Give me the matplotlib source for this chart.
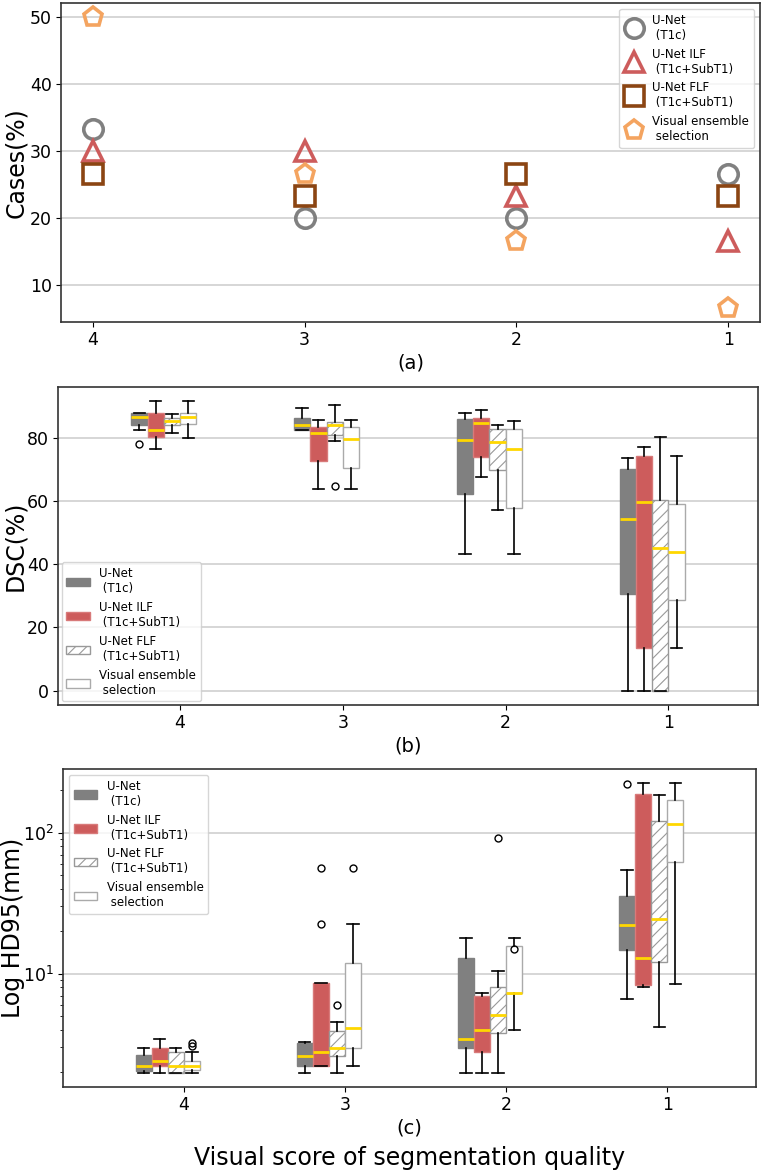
import matplotlib.pyplot as plt
from matplotlib.patches import Patch

# visual score groups (left to right)
scores = ['4', '3', '2', '1']
methods = ['U-Net\n (T1c)', 'U-Net ILF\n (T1c+SubT1)',
           'U-Net FLF\n (T1c+SubT1)', 'Visual ensemble\n selection']

# (a) percentage of cases per visual score
cases_unet = [33.3, 20.0, 20.0, 26.7]
cases_ilf = [30.0, 30.0, 23.3, 16.7]
cases_flf = [26.7, 23.3, 26.7, 23.3]
cases_visual = [50.0, 26.7, 16.7, 6.7]

# (b) DSC box stats per score: [whislo, q1, med, q3, whishi]
dsc_unet = [[82.7, 84.2, 86.7, 88.1, 88.1], [82.5, 82.5, 84.2, 86.4, 89.5],
            [43.2, 62.4, 79.3, 85.9, 88.1], [0.0, 30.7, 54.5, 70.3, 73.8]]
dsc_ilf = [[76.4, 80.2, 82.5, 88.1, 91.6], [64.0, 72.6, 81.6, 83.6, 85.8],
           [67.7, 74.1, 84.8, 86.4, 88.8], [0.0, 13.4, 59.8, 74.2, 77.3]]
dsc_flf = [[81.6, 84.0, 85.4, 86.5, 87.7], [79.0, 80.9, 84.2, 85.1, 90.6],
           [57.2, 69.8, 78.6, 83.0, 84.1], [0.0, 0.0, 45.1, 60.3, 80.3]]
dsc_visual = [[79.9, 84.5, 86.7, 88.1, 91.6], [64.0, 70.6, 79.7, 83.5, 85.8],
              [43.2, 57.8, 76.5, 82.8, 85.4], [13.4, 28.8, 43.9, 59.0, 74.2]]
dsc_unet_fliers = [[78.2], [], [], []]
dsc_ilf_fliers = [[], [], [], []]
dsc_flf_fliers = [[], [64.9], [], []]
dsc_visual_fliers = [[], [], [], []]

# (c) HD95 box stats per score: [whislo, q1, med, q3, whishi]
hd_unet = [[1.99, 2.03, 2.2, 2.66, 2.98], [1.99, 2.2, 2.61, 3.24, 3.27],
           [1.99, 2.98, 3.45, 12.9, 18.0], [6.6, 14.8, 22.3, 35.5, 54.8]]
hd_ilf = [[1.99, 2.2, 2.42, 2.98, 3.43], [2.2, 2.2, 2.8, 8.53, 8.53],
          [1.99, 2.8, 3.97, 6.9, 7.3], [8.0, 8.36, 13.0, 189.0, 224.0]]
hd_flf = [[1.99, 1.99, 2.2, 2.8, 2.98], [1.99, 2.61, 2.98, 3.91, 4.53],
          [1.99, 3.77, 5.08, 8.1, 10.4], [4.2, 12.2, 24.3, 122.0, 185.0]]
hd_visual = [[1.99, 2.08, 2.2, 2.42, 2.8], [2.2, 2.98, 4.15, 12.0, 22.5],
             [3.97, 7.33, 7.33, 15.8, 18.0], [8.4, 62.2, 116.0, 171.0, 224.0]]
hd_unet_fliers = [[], [], [], [222.0]]
hd_ilf_fliers = [[], [56.7, 22.5], [], []]
hd_flf_fliers = [[], [5.96], [92.0], []]
hd_visual_fliers = [[3.22, 3.05], [56.7], [14.9], []]

marker_colors = ['#808080', '#cd5c5c', '#8b4513', '#f4a460']
markers = ['o', '^', 's', 'p']
box_face = ['#808080', '#cd5c5c', 'white', 'white']
box_edge = ['#808080', '#d87a7a', '#999999', '#aaaaaa']
box_hatch = [None, None, '///', None]
offsets = [-0.25, -0.15, -0.05, 0.05]

plt.rcParams['hatch.linewidth'] = 0.8
W, H = 762, 1172
fig = plt.figure(figsize=(W / 100, H / 100), dpi=100)


def make_axes(l, r, t, b):
    return fig.add_axes([l / W, 1 - b / H, (r - l) / W, (b - t) / H])


def style_axes(ax, label, xlab, label_x):
    ax.grid(axis='y', which='major', color='#d0d0d0', linewidth=1.2)
    ax.set_axisbelow(True)
    for s in ax.spines.values():
        s.set_color('#333333')
        s.set_linewidth(1.2)
    ax.tick_params(labelsize=12.5, pad=3)
    ax.set_ylabel(label, fontsize=17, va='center')
    pos = ax.get_position()
    ax.yaxis.set_label_coords((label_x / W - pos.x0) / pos.width, 0.5)
    ax.set_xlabel(xlab, fontsize=14, labelpad=3)


# ---------- (a) ----------
ax1 = make_axes(61, 760, 3, 322)
xs = range(1, 5)
for vals, c, m, lab in zip([cases_unet, cases_ilf, cases_flf, cases_visual],
                           marker_colors, markers, methods):
    ax1.plot(xs, vals, linestyle='none', marker=m, markersize=14,
             markerfacecolor='none', markeredgecolor=c, markeredgewidth=2.6,
             label=lab)
ax1.set_xticks(list(xs))
ax1.set_xticklabels(scores)
style_axes(ax1, 'Cases(%)', '(a)', 16)
ax1.legend(loc='upper right', fontsize=8.5, handlelength=1.6)


# ---------- (b), (c) ----------
def draw_boxes(ax, all_stats, all_fliers):
    for i, (stats, fliers) in enumerate(zip(all_stats, all_fliers)):
        bstats = [dict(whislo=s[0], q1=s[1], med=s[2], q3=s[3], whishi=s[4],
                       fliers=f) for s, f in zip(stats, fliers)]
        pos = [k + 1 + offsets[i] for k in range(4)]
        ax.bxp(bstats, positions=pos, widths=0.1, patch_artist=True,
               capwidths=0.07, manage_ticks=False,
               boxprops=dict(facecolor=box_face[i], edgecolor=box_edge[i],
                             hatch=box_hatch[i], linewidth=1),
               medianprops=dict(color='#ffd700', linewidth=2),
               whiskerprops=dict(color='black', linewidth=1.2),
               capprops=dict(color='black', linewidth=1.2),
               flierprops=dict(marker='o', markerfacecolor='none',
                               markeredgecolor='black', markersize=5))
    ax.set_xlim(0.25, 4.55)
    ax.set_xticks(range(1, 5))
    ax.set_xticklabels(scores)


def box_handles():
    return [Patch(facecolor=box_face[i], edgecolor=box_edge[i],
                  hatch=box_hatch[i], label=methods[i]) for i in range(4)]


ax2 = make_axes(58, 758, 387, 705)
draw_boxes(ax2, [dsc_unet, dsc_ilf, dsc_flf, dsc_visual],
           [dsc_unet_fliers, dsc_ilf_fliers, dsc_flf_fliers, dsc_visual_fliers])
style_axes(ax2, 'DSC(%)', '(b)', 15)
ax2.legend(handles=box_handles(), loc='lower left', fontsize=8.5,
           borderaxespad=0.3)

ax3 = make_axes(63, 756, 769, 1087)
ax3.set_yscale('log')
draw_boxes(ax3, [hd_unet, hd_ilf, hd_flf, hd_visual],
           [hd_unet_fliers, hd_ilf_fliers, hd_flf_fliers, hd_visual_fliers])
style_axes(ax3, 'Log HD95(mm)', '(c)', 13)
ax3.legend(handles=box_handles(), loc='upper left', fontsize=8.5)

fig.text(0.5 * (63 + 756) / W, 1 - 1158 / H,
         'Visual score of segmentation quality', fontsize=17,
         ha='center', va='center')

fig.savefig('out.png', dpi=100)
